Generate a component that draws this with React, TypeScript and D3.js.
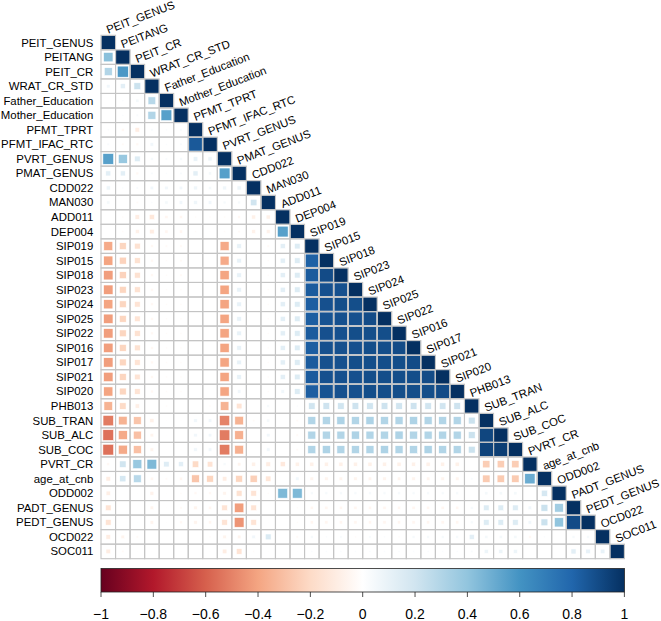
import React from "react";
import * as d3 from "d3";

const variables = [
  "PEIT_GENUS", "PEITANG", "PEIT_CR", "WRAT_CR_STD", "Father_Education", "Mother_Education",
  "PFMT_TPRT", "PFMT_IFAC_RTC", "PVRT_GENUS", "PMAT_GENUS", "CDD022", "MAN030", "ADD011", "DEP004",
  "SIP019", "SIP015", "SIP018", "SIP023", "SIP024", "SIP025", "SIP022", "SIP016", "SIP017", "SIP021",
  "SIP020", "PHB013", "SUB_TRAN", "SUB_ALC", "SUB_COC", "PVRT_CR", "age_at_cnb", "ODD002",
  "PADT_GENUS", "PEDT_GENUS", "OCD022", "SOC011",
];

// lower triangle: row i holds correlations with columns 0..i-1 (diagonal = 1)
const lowerTriangle: number[][] = [
  [],
  [0.42],
  [0.30, 0.58],
  [0.06, 0.12, 0.22],
  [0.01, 0.02, 0.05, 0.28],
  [0.00, 0.02, 0.03, 0.30, 0.55],
  [0.02, -0.04, -0.10, 0.03, 0.02, 0.03],
  [0.03, -0.03, -0.04, 0.06, 0.02, 0.03, 0.85],
  [0.55, 0.38, 0.15, 0.04, 0.03, 0.04, 0.10, 0.08],
  [0.12, 0.12, -0.04, 0.03, 0.02, 0.03, 0.12, 0.05, 0.55],
  [0.08, 0.02, 0.03, 0.06, 0.06, 0.06, 0.07, 0.05, 0.07, 0.08],
  [0.05, 0.01, -0.03, 0.02, 0.05, 0.06, 0.07, 0.06, 0.04, 0.04, 0.20],
  [0.00, -0.02, -0.10, -0.13, -0.05, -0.05, -0.02, -0.02, -0.02, -0.04, -0.08, -0.08],
  [0.00, -0.02, -0.08, -0.10, -0.05, -0.05, -0.02, -0.01, -0.02, -0.03, -0.07, -0.07, 0.55],
  [-0.38, -0.22, -0.16, -0.04, -0.03, -0.03, -0.01, 0.01, -0.38, 0.10, 0.01, -0.03, 0.12, 0.15],
  [-0.40, -0.23, -0.16, -0.04, -0.02, -0.03, -0.01, 0.00, -0.38, 0.10, 0.01, -0.02, 0.12, 0.15, 0.82],
  [-0.42, -0.23, -0.16, -0.04, -0.02, -0.03, 0.00, 0.00, -0.40, 0.10, 0.01, -0.02, 0.12, 0.15, 0.84, 0.90],
  [-0.42, -0.22, -0.16, -0.04, -0.02, -0.02, 0.00, 0.00, -0.40, 0.10, 0.01, -0.02, 0.12, 0.15, 0.84, 0.88, 0.88],
  [-0.40, -0.22, -0.15, -0.04, -0.02, -0.02, 0.00, 0.00, -0.40, 0.10, 0.01, -0.02, 0.12, 0.15, 0.83, 0.88, 0.89, 0.89],
  [-0.42, -0.22, -0.15, -0.04, -0.02, -0.02, 0.00, 0.00, -0.40, 0.10, 0.01, -0.02, 0.12, 0.15, 0.83, 0.87, 0.88, 0.88, 0.90],
  [-0.42, -0.22, -0.16, -0.04, -0.02, -0.02, 0.00, 0.00, -0.40, 0.10, 0.01, -0.02, 0.12, 0.15, 0.84, 0.88, 0.88, 0.89, 0.89, 0.89],
  [-0.42, -0.22, -0.16, -0.04, -0.02, -0.02, 0.00, 0.00, -0.40, 0.10, 0.01, -0.02, 0.12, 0.15, 0.83, 0.88, 0.88, 0.88, 0.89, 0.89, 0.90],
  [-0.42, -0.22, -0.15, -0.04, -0.02, -0.02, 0.00, 0.00, -0.40, 0.10, 0.01, -0.02, 0.12, 0.15, 0.84, 0.88, 0.88, 0.89, 0.89, 0.89, 0.89, 0.90],
  [-0.42, -0.22, -0.15, -0.04, -0.02, -0.02, 0.00, 0.00, -0.40, 0.10, 0.01, -0.02, 0.12, 0.15, 0.84, 0.88, 0.88, 0.88, 0.89, 0.89, 0.89, 0.89, 0.90],
  [-0.40, -0.22, -0.15, -0.04, -0.02, -0.02, 0.00, 0.00, -0.40, 0.06, 0.01, -0.02, 0.06, 0.15, 0.83, 0.87, 0.88, 0.88, 0.89, 0.89, 0.89, 0.89, 0.89, 0.90],
  [-0.35, -0.20, -0.09, -0.01, -0.02, 0.00, -0.01, -0.02, -0.35, -0.15, 0.00, 0.04, 0.01, 0.02, 0.20, 0.21, 0.20, 0.21, 0.20, 0.21, 0.20, 0.21, 0.20, 0.20, 0.21],
  [-0.52, -0.35, -0.28, -0.08, -0.01, -0.01, 0.06, 0.06, -0.50, -0.35, -0.03, 0.05, 0.01, -0.03, 0.30, 0.30, 0.31, 0.30, 0.31, 0.30, 0.30, 0.31, 0.30, 0.30, 0.30, 0.22],
  [-0.55, -0.38, -0.30, -0.06, -0.01, -0.01, 0.06, 0.06, -0.52, -0.36, -0.01, 0.06, 0.01, -0.03, 0.30, 0.30, 0.30, 0.31, 0.30, 0.30, 0.31, 0.30, 0.30, 0.30, 0.30, 0.22, 0.92],
  [-0.55, -0.38, -0.30, -0.06, -0.01, -0.01, 0.06, 0.06, -0.52, -0.36, -0.01, 0.06, 0.01, -0.03, 0.30, 0.31, 0.30, 0.30, 0.30, 0.31, 0.30, 0.30, 0.31, 0.30, 0.30, 0.22, 0.93, 0.95],
  [-0.04, 0.20, 0.38, 0.45, 0.14, 0.12, -0.20, -0.15, 0.04, -0.06, -0.08, -0.10, -0.12, -0.08, -0.08, -0.08, -0.08, -0.08, -0.08, -0.08, -0.08, -0.08, -0.08, -0.08, -0.08, -0.01, -0.25, -0.25, -0.25],
  [-0.10, 0.18, 0.28, -0.05, -0.03, -0.05, -0.28, -0.22, -0.10, -0.22, -0.24, -0.14, -0.01, 0.06, -0.06, -0.06, -0.06, -0.06, -0.06, -0.06, -0.06, -0.06, -0.06, -0.06, -0.06, 0.03, -0.26, -0.26, -0.26, 0.50],
  [-0.09, -0.01, -0.01, -0.07, -0.01, -0.02, -0.04, -0.04, -0.06, -0.16, -0.15, -0.02, 0.45, 0.45, 0.04, 0.04, 0.04, 0.04, 0.04, 0.04, 0.04, 0.04, 0.04, 0.04, 0.04, 0.01, 0.05, 0.05, 0.05, 0.01, 0.18],
  [-0.15, -0.01, -0.01, -0.06, -0.01, -0.03, -0.06, -0.05, -0.15, -0.42, -0.15, -0.01, -0.01, -0.02, -0.05, -0.05, -0.05, -0.05, -0.05, -0.05, -0.05, -0.05, -0.05, -0.05, -0.05, 0.04, 0.15, 0.15, 0.15, 0.06, 0.22, 0.35],
  [-0.15, -0.01, -0.01, -0.06, -0.01, -0.04, -0.06, -0.05, -0.15, -0.45, -0.15, -0.01, -0.01, -0.02, -0.05, -0.05, -0.05, -0.05, -0.05, -0.05, -0.05, -0.05, -0.05, -0.05, -0.05, 0.04, 0.15, 0.15, 0.15, 0.06, 0.22, 0.40, 0.90],
  [-0.10, -0.06, -0.03, -0.01, -0.01, -0.01, -0.01, -0.02, -0.06, -0.06, 0.06, 0.16, -0.01, -0.03, 0.04, 0.02, 0.03, -0.02, 0.03, 0.02, -0.02, 0.04, 0.04, 0.04, 0.04, 0.12, 0.05, 0.05, 0.05, -0.04, 0.02, 0.00, 0.04, 0.04],
  [-0.10, -0.03, -0.01, -0.01, 0.00, -0.01, -0.01, -0.01, -0.10, -0.15, -0.02, -0.01, 0.01, 0.01, 0.02, 0.02, 0.02, 0.02, 0.02, 0.02, 0.02, 0.02, 0.02, 0.02, 0.02, 0.03, 0.08, 0.08, 0.08, 0.01, 0.01, 0.01, 0.12, 0.10, 0.10],
];

const paletteDomain = [-1, -0.8, -0.6, -0.4, -0.2, 0, 0.2, 0.4, 0.6, 0.8, 1];
const paletteColors = [
  "#67001F", "#B2182B", "#D6604D", "#F4A582", "#FDDBC7", "#FFFFFF",
  "#D1E5F0", "#92C5DE", "#4393C3", "#2166AC", "#053061",
];
const colorbarTicks = [-1, -0.8, -0.6, -0.4, -0.2, 0, 0.2, 0.4, 0.6, 0.8, 1];

const FONT = "'Liberation Sans', Arial, Helvetica, sans-serif";

export default function App() {
  const W = 661;
  const H = 621;
  const gridLeft = 101;
  const gridTop = 35.3;
  const gridSize = 523.4;

  const x = d3.scaleBand<string>().domain(variables).range([gridLeft, gridLeft + gridSize]);
  const y = d3.scaleBand<string>().domain(variables).range([gridTop, gridTop + gridSize]);
  const bw = x.bandwidth();
  const color = d3
    .scaleLinear<string>()
    .domain(paletteDomain)
    .range(paletteColors)
    .interpolate(d3.interpolateRgb);

  const cells: { row: string; col: string; r: number }[] = [];
  variables.forEach((rv, i) => {
    for (let j = 0; j <= i; j++) {
      cells.push({ row: rv, col: variables[j], r: j === i ? 1 : lowerTriangle[i][j] });
    }
  });

  const cb = d3.scaleLinear().domain([-1, 1]).range([gridLeft, gridLeft + gridSize]);
  const cbTop = 568.5;
  const cbBottom = 592;
  const fmt = d3.format(".1~f");

  return (
    <div style={{ position: "absolute", left: 0, top: 0 }}>
      <svg width={W} height={H} style={{ display: "block", background: "#fff" }} fontFamily={FONT}>
        <defs>
          <linearGradient id="cbgrad" x1="0" x2="1" y1="0" y2="0">
            {paletteDomain.map((d, k) => (
              <stop key={k} offset={`${((d + 1) / 2) * 100}%`} stopColor={color(d)} />
            ))}
          </linearGradient>
        </defs>

        {/* squares */}
        <g>
          {cells.map((c, k) => {
            const side = Math.sqrt(Math.abs(c.r)) * bw;
            const cx = (x(c.col) as number) + bw / 2;
            const cy = (y(c.row) as number) + bw / 2;
            return (
              <rect
                key={k}
                x={cx - side / 2}
                y={cy - side / 2}
                width={side}
                height={side}
                fill={color(c.r)}
                stroke="#ffffff"
                strokeWidth={0.6}
              />
            );
          })}
        </g>

        {/* grid */}
        <g>
          {cells.map((c, k) => (
            <rect
              key={k}
              x={x(c.col)}
              y={y(c.row)}
              width={bw}
              height={bw}
              fill="none"
              stroke="#c4c4c4"
              strokeWidth={1.1}
            />
          ))}
        </g>

        {/* row labels */}
        <g fontSize={11.4} fill="#000">
          {variables.map((v) => (
            <text key={v} x={gridLeft - 7.7} y={(y(v) as number) + bw / 2} dy="0.35em" textAnchor="end">
              {v}
            </text>
          ))}
        </g>

        {/* column labels */}
        <g fontSize={11.4} fill="#000">
          {variables.map((v) => (
            <text
              key={v}
              transform={`translate(${(x(v) as number) + bw / 2},${(y(v) as number) - 1.5}) rotate(-21)`}
              textAnchor="start"
            >
              {v}
            </text>
          ))}
        </g>

        {/* colorbar */}
        <rect x={cb(-1)} y={cbTop} width={cb(1) - cb(-1)} height={cbBottom - cbTop} fill="url(#cbgrad)" stroke="#222" strokeWidth={0.8} />
        <g>
          {colorbarTicks.map((t, k) => (
            <g key={k}>
              <line x1={cb(t)} x2={cb(t)} y1={cbBottom} y2={cbBottom + 5} stroke="#222" strokeWidth={0.8} />
              <text x={cb(t)} y={619} textAnchor="middle" fontSize={14} fill="#000">
                {fmt(t)}
              </text>
            </g>
          ))}
        </g>
      </svg>
    </div>
  );
}
